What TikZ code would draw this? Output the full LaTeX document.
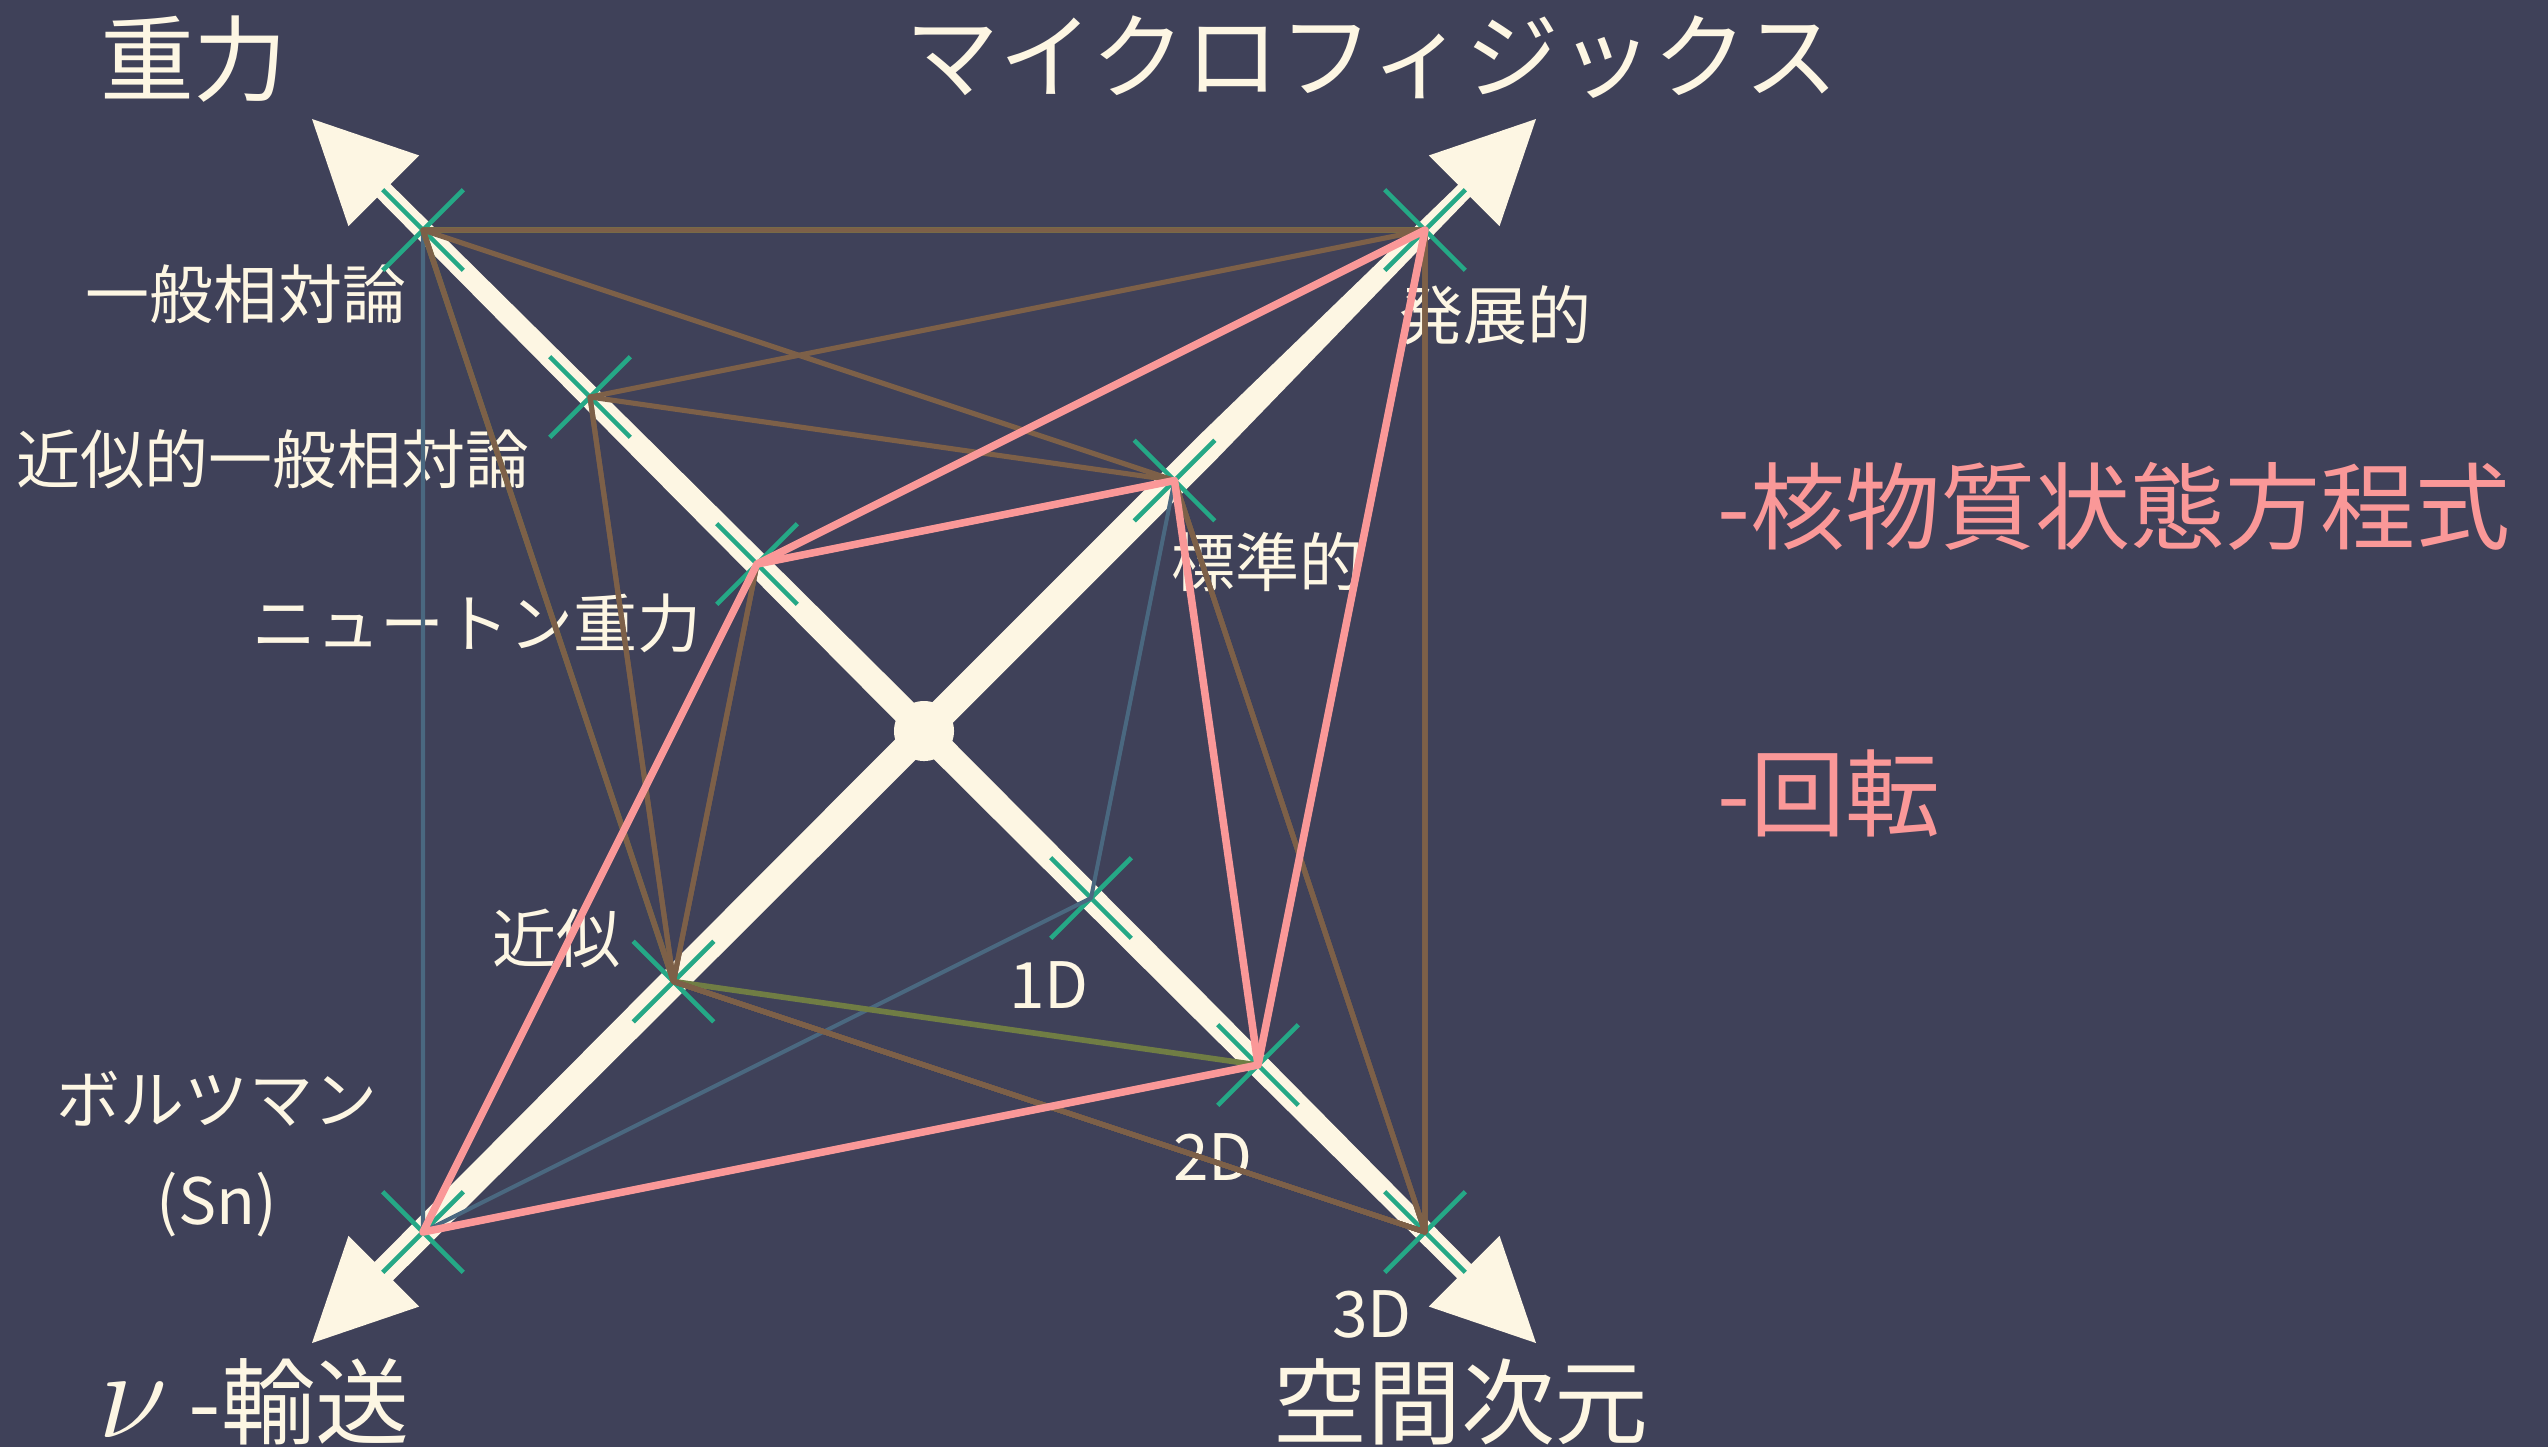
\documentclass[tikz,border=0pt]{standalone}
\usepackage{fontspec}
\usepackage{graphicx}
\setmainfont{Noto Sans CJK JP}
\usetikzlibrary{calc}
\definecolor{bg}{HTML}{3F4159}
\definecolor{cream}{HTML}{FDF6E3}
\definecolor{tickg}{HTML}{25A886}
\definecolor{pinkc}{HTML}{FA9898}
\definecolor{brownc}{HTML}{7D6048}
\definecolor{olivec}{HTML}{707D44}
\definecolor{bluec}{HTML}{4A6880}
\tikzset{
  big/.style={text=cream, font=\fontsize{26.7}{32}\selectfont, inner sep=0pt},
  small/.style={text=cream, font=\fontsize{18.2}{28.5}\selectfont, inner sep=0pt, align=center},
  side/.style={text=pinkc, font=\fontsize{27}{32}\selectfont, inner sep=0pt, anchor=west},
  tickmark/.style={draw=tickg, line width=1.3pt},
  pinkline/.style={draw=pinkc, line width=2.15pt, line join=round},
  brownline/.style={draw=brownc, line width=1.45pt, line join=round},
  oliveline/.style={draw=olivec, line width=1.6pt, line join=round},
  blueline/.style={draw=bluec, line width=1.15pt, line join=round},
  axisfill/.style={fill=cream},
}
\begin{document}
\begin{tikzpicture}[x=0.01cm,y=-0.01cm]
\fill[bg] (0,0) rectangle (2548,1447);
\useasboundingbox (0,0) rectangle (2548,1447);

% points
\coordinate (C) at (924,731);
\coordinate (GR) at (423,230);
\coordinate (aGR) at (590,397);
\coordinate (NG) at (757,564);
\coordinate (EV) at (1425,230);
\coordinate (ST) at (1174.5,480.5);
\coordinate (AP) at (673.5,981.5);
\coordinate (BO) at (423,1232);
\coordinate (D1) at (1091,898);
\coordinate (D2) at (1258,1065);
\coordinate (D3) at (1425,1232);

% labels
\node[big] (lgrav) at (194,59) {重力};
\node[big] (lmicro) at (1372,57) {マイクロフィジックス};
\node[big, anchor=west] (ltrans) at (98,1402) {\scalebox{1.45}{$\nu$}\hspace{0.22em}-輸送};
\node[big] (ldim) at (1461,1402) {空間次元};
\node[small] (lGR) at (246,294) {一般相対論};
\node[small] (laGR) at (273,459) {近似的一般相対論};
\node[small] (lNG) at (477,623) {ニュートン重力};
\node[small] (lAP) at (556,939) {近似};
\node[small] (lBO) at (217,1154) {ボルツマン\\(Sn)};
\node[small] (lEV) at (1495,315) {発展的};
\node[small] (lST) at (1267,562) {標準的};
\node[small] (lD1) at (1049,985) {1D};
\node[small] (lD2) at (1213,1157) {2D};
\node[small] (lD3) at (1372,1314) {3D};
\node[side] (leos) at (1717,506) {-核物質状態方程式};
\node[side] (lrot) at (1717,793) {-回転};

% axes: direction signs, half-width at centre, at distance 400, at arrowhead base
\foreach \sx/\sy/\ha/\hm/\hb in {-1/-1/13/11.5/9.5, 1/-1/14.5/14.5/8.5, -1/1/14.5/14/13, 1/1/13/12/10}{
  \fill[axisfill] ($(C)+({-(\sy)*\ha*0.7071},{(\sx)*\ha*0.7071})$)
    -- ($(C)+({282.8*(\sx)-(\sy)*\hm*0.7071},{282.8*(\sy)+(\sx)*\hm*0.7071})$)
    -- ($(C)+({540.2*(\sx)-(\sy)*\hb*0.7071},{540.2*(\sy)+(\sx)*\hb*0.7071})$)
    -- ($(C)+({540.2*(\sx)-(\sy)*35.36},{540.2*(\sy)+(\sx)*35.36})$)
    -- ($(C)+({612*(\sx)},{612*(\sy)})$)
    -- ($(C)+({540.2*(\sx)+(\sy)*35.36},{540.2*(\sy)-(\sx)*35.36})$)
    -- ($(C)+({540.2*(\sx)+(\sy)*\hb*0.7071},{540.2*(\sy)-(\sx)*\hb*0.7071})$)
    -- ($(C)+({282.8*(\sx)+(\sy)*\hm*0.7071},{282.8*(\sy)-(\sx)*\hm*0.7071})$)
    -- ($(C)+({(\sy)*\ha*0.7071},{-(\sx)*\ha*0.7071})$) -- cycle;
}
\fill[axisfill] (C) circle[radius=0.3cm];

% tick marks
\foreach \p in {GR,aGR,NG,EV,ST,AP,BO,D1,D2,D3}{
  \draw[tickmark] ($(\p)+(-40.3,-40.3)$) -- ($(\p)+(40.3,40.3)$);
  \draw[tickmark] ($(\p)+(-40.3,40.3)$) -- ($(\p)+(40.3,-40.3)$);
}

% connectors
\draw[blueline] (GR) -- (ST) -- (D1) -- (BO) -- cycle;
\draw[oliveline] (GR) -- (EV) -- (D2) -- (AP) -- cycle;
\foreach \g in {GR,aGR,NG}{
  \foreach \m in {EV,ST}{
    \draw[brownline] (\g) -- (\m) -- (D3) -- (AP) -- cycle;
  }
}
\draw[pinkline] (NG) -- (EV) -- (D2) -- (BO) -- cycle;
\draw[pinkline] (NG) -- (ST) -- (D2);
\end{tikzpicture}
\end{document}
